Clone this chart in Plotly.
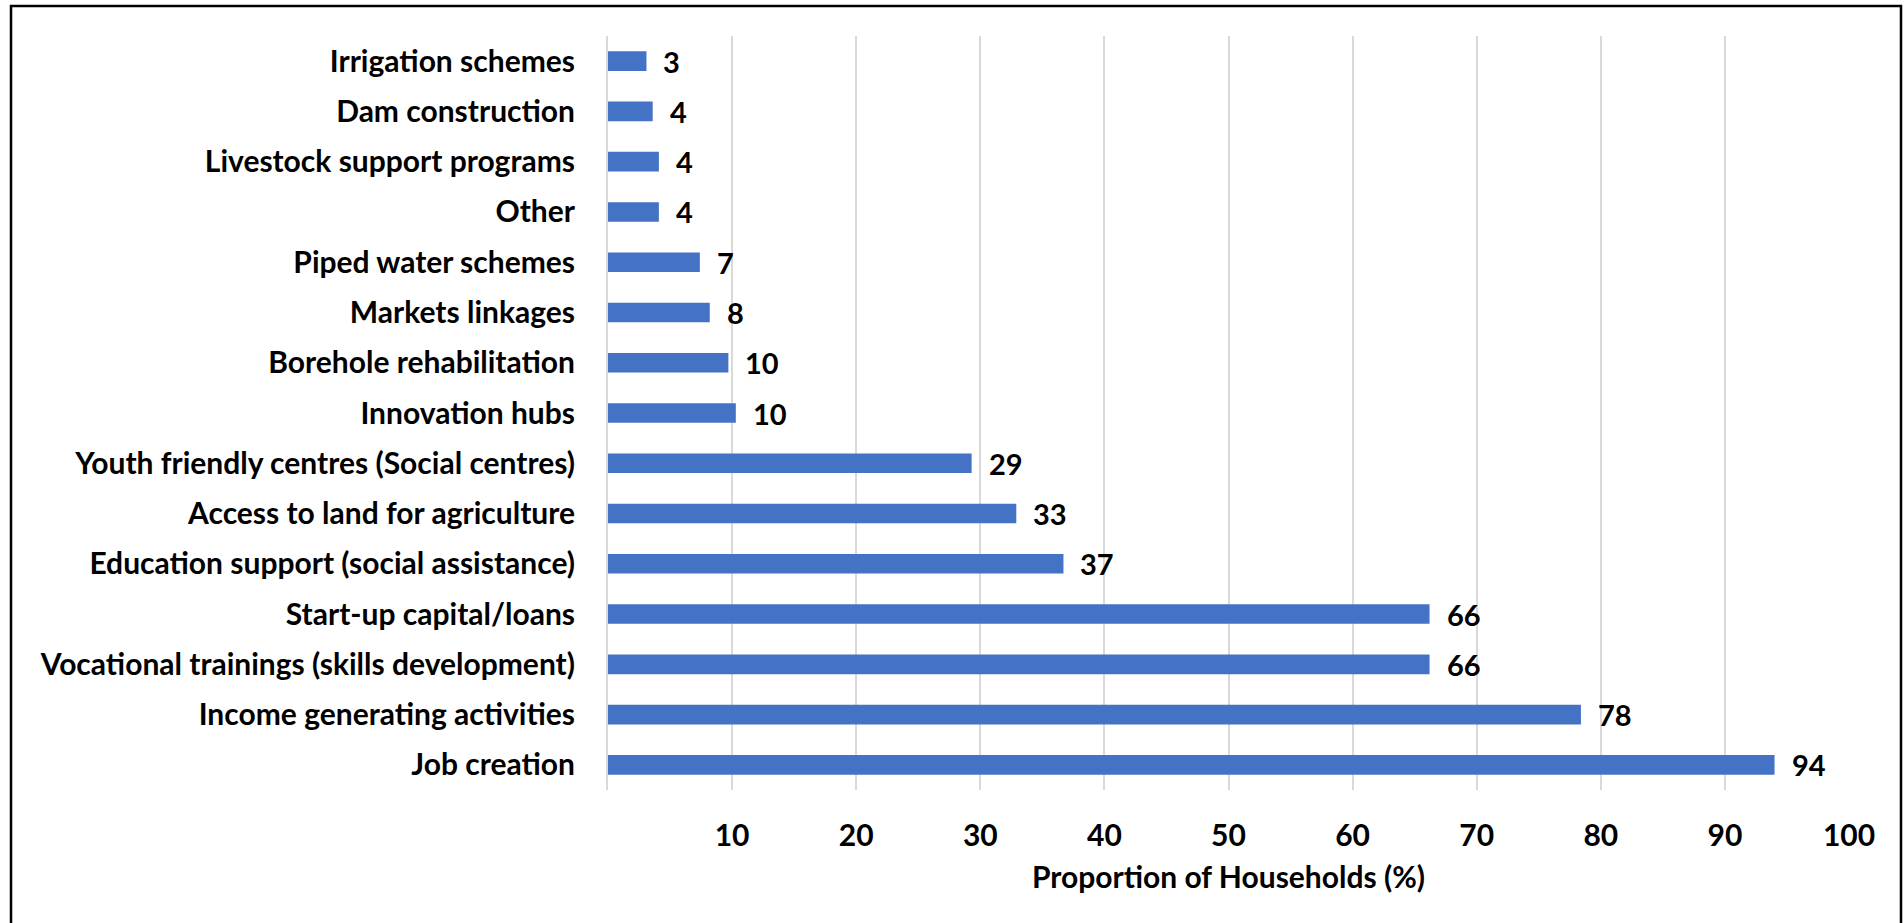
#!/usr/bin/env python3

import plotly.graph_objs as go

# data (bottom to top as drawn)
categories = [
    "Job creation",
    "Income generating activities",
    "Vocational trainings (skills development)",
    "Start-up capital/loans",
    "Education support (social assistance)",
    "Access to land for agriculture",
    "Youth friendly centres (Social centres)",
    "Innovation hubs",
    "Borehole rehabilitation",
    "Markets linkages",
    "Piped water schemes",
    "Other",
    "Livestock support programs",
    "Dam construction",
    "Irrigation schemes",
]
proportions = [94.0, 78.4, 66.2, 66.2, 36.7, 32.9, 29.3, 10.3, 9.7, 8.2, 7.4, 4.1, 4.1, 3.6, 3.1]
tickValues = [10, 20, 30, 40, 50, 60, 70, 80, 90, 100]

fontName = "Lato"
barColor = "#4472C4"
gridColor = "#D9D9D9"

W, H = 1904, 923
mLeft, mRight, mTop, mBottom = 608, 55, 36, 133

fig = go.Figure()
fig.add_trace(
    go.Bar(
        x=proportions,
        y=categories,
        orientation='h',
        marker=dict(color=barColor, line=dict(width=0)),
        hoverinfo='x+y',
    )
)

# value labels just right of the bar ends
for cat, val in zip(categories, proportions):
    fig.add_annotation(
        x=val, y=cat, text=f"{round(val)}",
        xanchor='left', yanchor='middle', xshift=15,
        showarrow=False,
        font=dict(family=fontName, size=29, color="black", weight="bold"),
    )

# outer frame around the whole picture
plotH = H - mTop - mBottom
plotW = W - mLeft - mRight
fig.add_shape(
    type='rect', xref='paper', yref='paper',
    x0=(11 - mLeft) / plotW, x1=(1901 - mLeft) / plotW,
    y0=-(H + 10 - mTop - plotH) / plotH, y1=1 + (mTop - 6) / plotH,
    line=dict(color="black", width=2.5), fillcolor='rgba(0,0,0,0)',
)

fig.update_layout(
    width=W, height=H,
    margin=dict(l=mLeft, r=mRight, t=mTop, b=mBottom),
    paper_bgcolor="white", plot_bgcolor="white",
    bargap=0.61,
    showlegend=False,
    font=dict(family=fontName, color="black"),
)
fig.update_xaxes(
    range=[0, 100],
    tickvals=tickValues,
    ticks='outside', ticklen=19, tickcolor='rgba(0,0,0,0)',
    tickfont=dict(family=fontName, size=30, color="black", weight="bold"),
    showgrid=True, gridcolor=gridColor, gridwidth=2,
    zeroline=False, showline=False,
    title=dict(text="Proportion of Households (%)", standoff=15,
               font=dict(family=fontName, size=30, color="black", weight="bold")),
)
fig.update_yaxes(
    ticks='outside', ticklen=25, tickcolor='rgba(0,0,0,0)',
    tickfont=dict(family=fontName, size=30, color="black", weight="bold"),
    showgrid=False, zeroline=False,
    showline=True, linecolor=gridColor, linewidth=2,
)

# page has a default body margin; drop it so the figure fills the window
fig.write_html("out.html", config={'displayModeBar': False},
               post_script="document.body.style.margin='0';")
